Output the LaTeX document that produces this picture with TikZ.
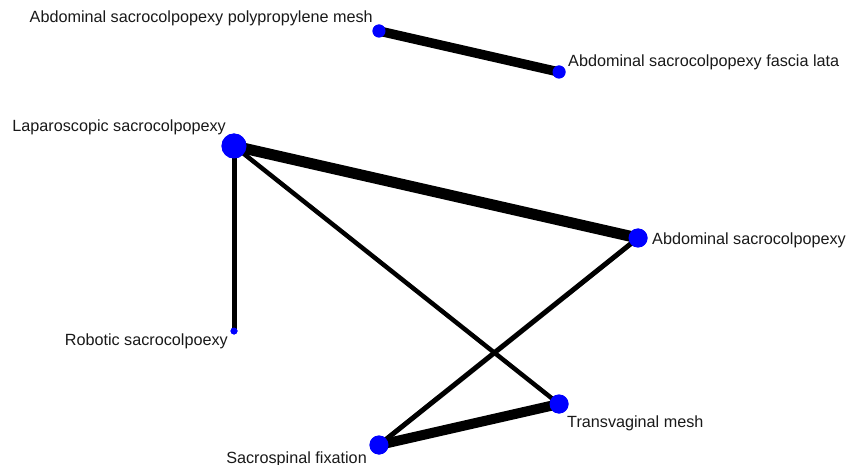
\documentclass[tikz,border=0pt]{standalone}
\usepackage{fontspec}
\setmainfont{Liberation Sans}
\begin{document}
\begin{tikzpicture}[x=1pt,y=-1pt,
  vtx/.style={circle,fill=blue,draw=none,inner sep=0pt},
  lbl/.style={inner sep=0pt,font=\fontsize{16.2}{18}\selectfont,text=black!90},
  edge/.style={draw=black,line cap=butt}]
\useasboundingbox (0,0) rectangle (857,465);
% vertices
\node[vtx,minimum size=13pt] (pp) at (379,31) {};
\node[vtx,minimum size=13pt] (fl) at (559,72) {};
\node[vtx,minimum size=25pt] (lap) at (234,146) {};
\node[vtx,minimum size=19pt] (abd) at (638,238) {};
\node[vtx,minimum size=7pt] (rob) at (234,331) {};
\node[vtx,minimum size=19pt] (tv) at (559,404) {};
\node[vtx,minimum size=19pt] (ss) at (379,445) {};
% edges
\path[edge,line width=9.5pt] (pp.center) -- (fl.center);
\path[edge,line width=11pt] (lap.center) -- (abd.center);
\path[edge,line width=5pt] (lap.center) -- (rob.center);
\path[edge,line width=4.5pt] (lap.center) -- (tv.center);
\path[edge,line width=5pt] (abd.center) -- (ss.center);
\path[edge,line width=10pt] (ss.center) -- (tv.center);
% redraw vertices on top of the edges
\foreach \n/\s in {pp/13,fl/13,lap/25,abd/19,rob/7,tv/19,ss/19}
  \fill[blue] (\n.center) circle[radius=\s/2];
% labels
\node[lbl,anchor=base east] (tpp) at (373,23) {Abdominal sacrocolpopexy polypropylene mesh};
\node[lbl,anchor=base west] (tfl) at (568,67) {Abdominal sacrocolpopexy fascia lata};
\node[lbl,anchor=base east] (tlap) at (226,132) {Laparoscopic sacrocolpopexy};
\node[lbl,anchor=base west] (tabd) at (652,244) {Abdominal sacrocolpopexy};
\node[lbl,anchor=base east] (trob) at (228,345) {Robotic sacrocolpoexy};
\node[lbl,anchor=base west] (ttv) at (567,427) {Transvaginal mesh};
\node[lbl,anchor=base east] (tss) at (367,463) {Sacrospinal fixation};
\end{tikzpicture}
\end{document}
